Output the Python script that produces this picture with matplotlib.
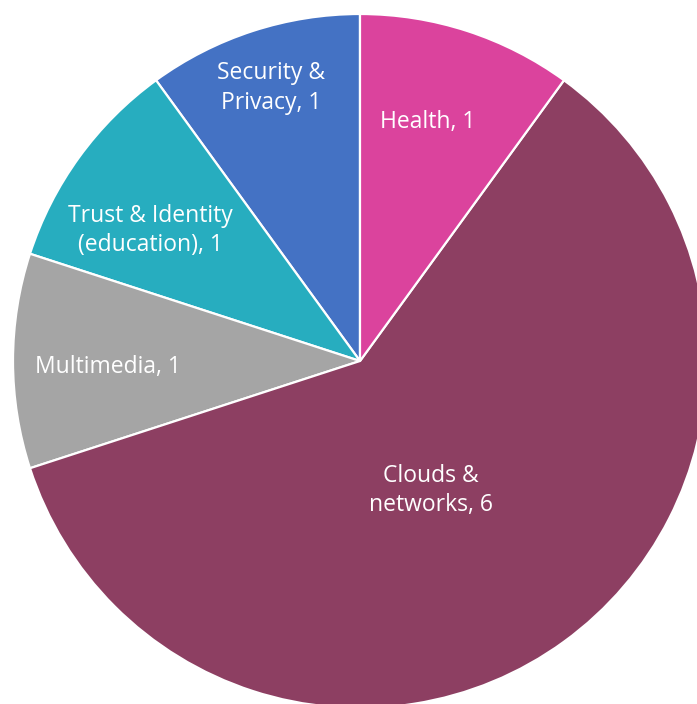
import matplotlib
matplotlib.use("Agg")
import matplotlib.pyplot as plt

categories = ["Security &\nPrivacy", "Trust & Identity\n(education)", "Multimedia",
              "Clouds &\nnetworks", "Health"]
values = [1, 1, 1, 6, 1]
colors = ["#4472C4", "#27ADBF", "#A5A5A5", "#8D3F62", "#DB439D"]
# label positions (fraction of radius), layout only
label_pos = [(-0.257, 0.786), (-0.604, 0.376), (-0.725, -0.016), (0.205, -0.373), (0.194, 0.690)]

W, H = 697, 704
fig = plt.figure(figsize=(W / 100, H / 100), dpi=100)
cx, cy, R = 360, 361, 347
ax = fig.add_axes([(cx - R) / W, (H - cy - R) / H, 2 * R / W, 2 * R / H])
wedges, _ = ax.pie(values, colors=colors, startangle=90, counterclock=True,
                   radius=1, wedgeprops=dict(edgecolor="white", linewidth=1.6))
for lab, v, (x, y) in zip(categories, values, label_pos):
    ax.text(x, y, f"{lab}, {v}", ha="center", va="center", color="white",
            fontsize=16.5, family=["Open Sans", "DejaVu Sans"], linespacing=1.32)
ax.set_xlim(-1, 1)
ax.set_ylim(-1, 1)
ax.set_aspect("equal")
ax.axis("off")
fig.savefig("out.png", dpi=100)
